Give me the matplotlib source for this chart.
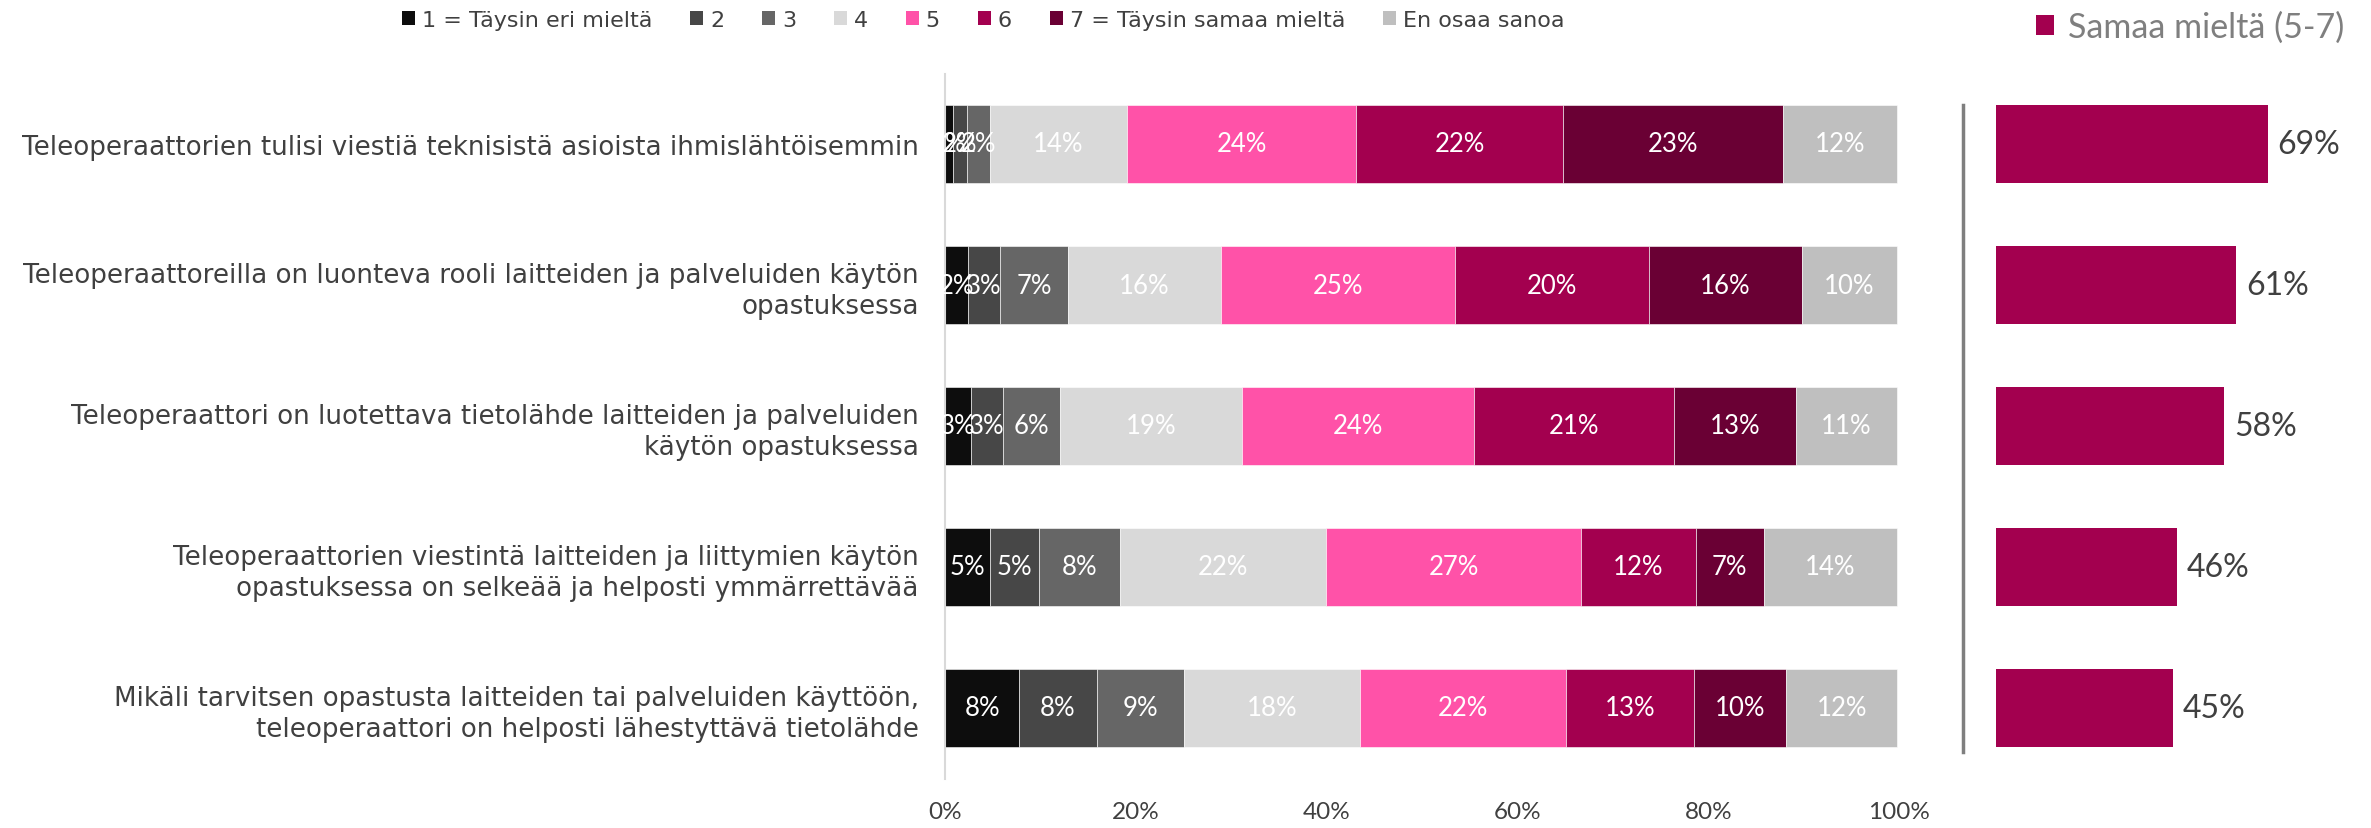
import matplotlib
matplotlib.use("Agg")
import matplotlib.pyplot as plt
from matplotlib.patches import Patch
import numpy as np

categories = [
    "Teleoperaattorien tulisi viestiä teknisistä asioista ihmislähtöisemmin",
    "Teleoperaattoreilla on luonteva rooli laitteiden ja palveluiden käytön\nopastuksessa",
    "Teleoperaattori on luotettava tietolähde laitteiden ja palveluiden\nkäytön opastuksessa",
    "Teleoperaattorien viestintä laitteiden ja liittymien käytön\nopastuksessa on selkeää ja helposti ymmärrettävää",
    "Mikäli tarvitsen opastusta laitteiden tai palveluiden käyttöön,\nteleoperaattori on helposti lähestyttävä tietolähde",
]
series_names = ["1 = Täysin eri mieltä", "2", "3", "4", "5", "6",
                "7 = Täysin samaa mieltä", "En osaa sanoa"]
s1 = [0.8, 2.4, 2.7, 4.7, 7.8]
s2 = [1.5, 3.4, 3.4, 5.2, 8.1]
s3 = [2.4, 7.1, 6.0, 8.4, 9.2]
s4 = [14.4, 16.0, 19.0, 21.6, 18.4]
s5 = [24.0, 24.6, 24.4, 26.8, 21.6]
s6 = [21.7, 20.3, 20.9, 12.0, 13.4]
s7 = [23.0, 16.0, 12.8, 7.1, 9.7]
s_eos = [12.0, 10.0, 10.6, 14.0, 11.6]
agree = [69, 61, 58, 46, 45]
colors = ["#0d0d0d", "#474747", "#666666", "#d9d9d9", "#ff52a8",
          "#a3004f", "#6a0034", "#bfbfbf"]
agree_color = "#a3004f"
text_col = "#404040"

series = [s1, s2, s3, s4, s5, s6, s7, s_eos]

W, H = 2371, 829
fig = plt.figure(figsize=(W / 100, H / 100), dpi=100)
font = "Lato"
cat_font = "DejaVu Sans"

# left axes
ax = fig.add_axes([945 / W, 1 - 779.5 / H, (1899 - 945) / W, (779.5 - 74.5) / H])
y = np.arange(len(categories))
left = np.zeros(len(categories))
for vals, col, name in zip(series, colors, series_names):
    vals = np.array(vals)
    ax.barh(y, vals, left=left, height=0.55, color=col, edgecolor="white",
            linewidth=0.4, label=name)
    for yi, v, l in zip(y, vals, left):
        ax.text(l + v / 2, yi, f"{int(v + 0.5):d}%", ha="center", va="center",
                color="white", fontsize=18.5, family=font)
    left += vals
ax.set_xlim(0, 100)
ax.set_ylim(len(categories) - 0.5, -0.5)
ax.set_yticks(y)
ax.set_yticklabels(categories, fontsize=18.8, color=text_col, family=cat_font,
                   linespacing=1.27)
ax.set_xticks(np.arange(0, 101, 20))
ax.set_xticklabels([f"{t}%" for t in range(0, 101, 20)], fontsize=17.5,
                   color=text_col, family=font)
ax.tick_params(axis="both", length=0)
ax.tick_params(axis="y", pad=19)
ax.tick_params(axis="x", pad=16)
for sp in ["top", "right", "bottom"]:
    ax.spines[sp].set_visible(False)
ax.spines["left"].set_color("#d9d9d9")
ax.spines["left"].set_linewidth(1.5)

handles = [Patch(facecolor=c, edgecolor="none") for c in colors]
fig.legend(handles, series_names, loc="center", bbox_to_anchor=(983 / W, 1 - 21 / H),
           ncol=8, frameon=False, handlelength=0.6, handleheight=0.6,
           handletextpad=0.3, columnspacing=1.7,
           prop={"family": ["Liberation Sans Narrow", "DejaVu Sans"], "size": 16},
           labelcolor=text_col)

# right axes
ax2 = fig.add_axes([1996 / W, 1 - 779.5 / H, 315 / W, (779.5 - 74.5) / H])
ax2.barh(y, agree, height=0.55, color=agree_color)
for yi, v in zip(y, agree):
    ax2.text(v + 2.5, yi, f"{v}%", ha="left", va="center", fontsize=23,
             color=text_col, family=font)
ax2.set_xlim(0, 80)
ax2.set_ylim(len(categories) - 0.5, -0.5)
ax2.axis("off")
fig.legend([Patch(facecolor=agree_color)], ["Samaa mieltä (5-7)"],
           loc="center", bbox_to_anchor=(2190 / W, 1 - 28 / H), frameon=False,
           handlelength=0.55, handleheight=0.55, handletextpad=0.4,
           prop={"family": font, "size": 24.5}, labelcolor="#7f7f7f")

fig.add_artist(plt.Line2D([1963 / W, 1963 / W], [1 - 106 / H, 1 - 753 / H],
                          color="#7f7f7f", linewidth=2.5))

fig.savefig("out.png", dpi=100, facecolor="white")
